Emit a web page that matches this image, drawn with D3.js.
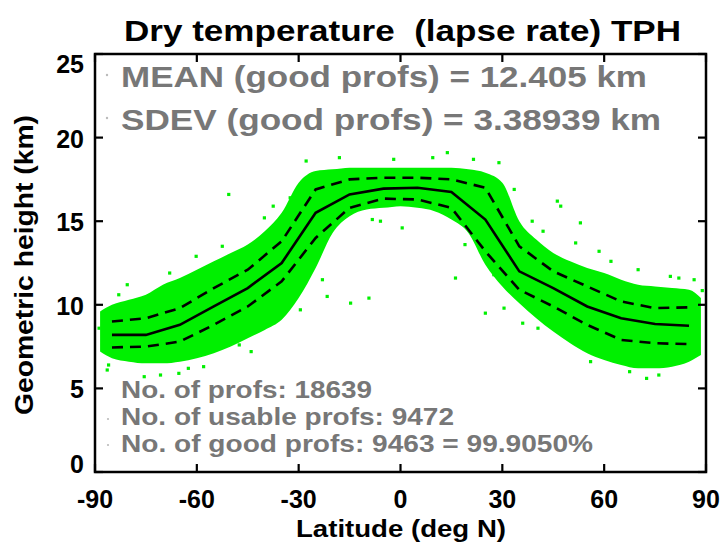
<!DOCTYPE html>
<html>
<head>
<meta charset="utf-8">
<script src="https://cdn.jsdelivr.net/npm/d3@7"></script>
<style>
  body{margin:0;background:#fff;}
  svg{display:block;}
  text{font-family:"Liberation Sans",Arial,Helvetica,sans-serif;font-weight:bold;white-space:pre;}
</style>
</head>
<body>
<svg id="svg" width="724" height="544"></svg>
<script>
// bin centres (deg N) for the mean / sdev curves
const binLat = [-85,-75,-65,-55,-45,-35,-25,-15,-5,5,15,25,35,45,55,65,75,85];
const meanH  = [8.2,8.2,8.8,9.9,11.0,12.5,15.5,16.6,16.95,17.0,16.75,15.1,12.0,11.0,9.9,9.2,8.85,8.75];
const upperH = [9.0,9.2,9.8,11.0,12.1,13.8,16.9,17.5,17.6,17.6,17.5,17.0,13.5,12.0,11.1,10.2,9.8,9.85];
const lowerH = [7.45,7.5,7.8,8.8,9.9,11.4,14.0,15.8,16.35,16.3,15.8,13.2,10.9,9.9,8.8,7.9,7.7,7.65];

// dense part of the profile cloud (outer envelope)
const cloudLat = [-88.5,-85,-80,-75,-70,-65,-60,-55,-50,-45,-40,-35,-30,-25,-20,-15,-10,-5,0,5,10,15,20,25,30,35,40,45,50,55,60,65,70,75,80,85,88.5];
const cloudTop = [9.6,10.0,10.3,10.6,11.2,11.6,12.1,12.6,13.1,13.6,14.4,15.5,17.3,18.0,18.1,18.2,18.2,18.2,18.2,18.2,18.2,18.2,18.1,17.9,17.3,15.0,13.9,13.1,12.6,12.2,11.9,11.5,11.2,11.1,11.0,10.9,10.4];
const cloudBot = [7.2,6.8,6.6,6.5,6.5,6.6,6.8,7.1,7.5,8.0,8.5,9.1,10.4,12.2,14.3,15.3,15.7,15.8,15.9,15.8,15.6,15.1,14.3,12.4,11.1,10.1,9.2,8.4,7.7,7.1,6.7,6.4,6.2,6.2,6.3,6.6,7.0];

// scattered profiles outside the dense band
const outLat = [-50.6,13.8,46.2,47.2,53.0,38.8,-14.7,-9.3,-21.6,-86.4,-70.7,-65.3,16.2,51.6,88.9,87.9,76.1,25.0,0.5,-8.3,-5.9,
                -88.8,-80.5,-60.2,-40.1,-32.5,-27.8,-18.0,-2.0,9.5,21.5,29.0,33.5,42.0,58.5,62.0,70.0,82.0,-75.5,-58.0,-44.0,30.5,36.0,72.5,
                -83.0,-68.0,-52.5,-37.5,-29.5,-23.0,19.0,27.5,40.5,56.0,67.5,79.5,86.5,-86.0,-62.5,-47.5];
const outH   = [16.6,19.1,16.2,15.9,14.9,15.0,10.1,10.4,10.5,6.1,5.8,5.9,11.6,13.7,10.85,7.1,5.8,9.5,14.6,15.1,15.0,
                8.6,11.2,12.9,15.2,16.4,18.6,18.8,18.7,18.8,18.7,18.5,16.9,14.4,13.2,12.6,12.1,11.6,5.7,6.3,7.2,9.8,8.9,5.6,
                10.6,11.9,13.5,15.9,9.7,11.5,13.6,11.8,8.6,6.6,6.0,11.7,11.5,6.4,6.2,7.6];

const yTicks = [0,5,10,15,20,25];
const xTicks = [-90,-60,-30,0,30,60,90];

const title = "Dry temperature  (lapse rate) TPH";
const statLines = ["MEAN (good profs) = 12.405 km", "SDEV (good profs) = 3.38939 km"];
const countLines = ["No. of profs: 18639", "No. of usable profs: 9472", "No. of good profs: 9463 = 99.9050%"];

const svg = d3.select("#svg");
const L = 95, R = 706, T = 54, B = 472;
const x = d3.scaleLinear().domain([-90,90]).range([L,R]);
const y = d3.scaleLinear().domain([0,25]).range([B,T]);
const green = "#00f000";

// cloud
const area = d3.area()
  .x((d,i)=>x(cloudLat[i]))
  .y0((d,i)=>y(cloudBot[i]))
  .y1((d,i)=>y(cloudTop[i]))
  .curve(d3.curveMonotoneX);
svg.append("path").datum(cloudLat).attr("d", area).attr("fill", green);

svg.append("g").selectAll("rect")
  .data(outLat.map((v,i)=>[v,outH[i]]))
  .enter().append("rect")
  .attr("x", d=>x(d[0])-1.6).attr("y", d=>y(d[1])-1.6)
  .attr("width", 3.2).attr("height", 3.2)
  .attr("fill", green);

// mean and +/- sdev
const line = arr => d3.line().x((d,i)=>x(binLat[i])).y((d,i)=>y(arr[i]))(binLat);
svg.append("path").attr("d", line(meanH)).attr("fill","none").attr("stroke","#000").attr("stroke-width",2.6);
[upperH, lowerH].forEach(arr=>{
  svg.append("path").attr("d", line(arr)).attr("fill","none").attr("stroke","#000")
    .attr("stroke-width",2.6).attr("stroke-dasharray","11,7");
});

// frame and ticks
svg.append("rect").attr("x",L).attr("y",T).attr("width",R-L).attr("height",B-T)
  .attr("fill","none").attr("stroke","#000").attr("stroke-width",2.5);
const tk = 8;
xTicks.forEach(v=>{
  svg.append("line").attr("x1",x(v)).attr("x2",x(v)).attr("y1",B).attr("y2",B-tk).attr("stroke","#000").attr("stroke-width",2.2);
  svg.append("line").attr("x1",x(v)).attr("x2",x(v)).attr("y1",T).attr("y2",T+tk).attr("stroke","#000").attr("stroke-width",2.2);
  svg.append("text").attr("x",x(v)).attr("y",B+36).attr("text-anchor","middle")
    .attr("font-size",25).text(v);
});
yTicks.forEach(v=>{
  svg.append("line").attr("x1",L).attr("x2",L+tk).attr("y1",y(v)).attr("y2",y(v)).attr("stroke","#000").attr("stroke-width",2.2);
  svg.append("line").attr("x1",R).attr("x2",R-tk).attr("y1",y(v)).attr("y2",y(v)).attr("stroke","#000").attr("stroke-width",2.2);
  // end labels are pushed inside the axis range
  const dy = v===25 ? 19 : (v===0 ? 1 : 10);
  svg.append("text").attr("x",84).attr("y",y(v)+dy).attr("text-anchor","end")
    .attr("font-size",25).text(v);
});

// titles
svg.append("text").attr("x",124).attr("y",41)
  .attr("font-size",30).attr("textLength",557).attr("lengthAdjust","spacingAndGlyphs").text(title);
svg.append("text").attr("x",296).attr("y",537)
  .attr("font-size",24).attr("textLength",210).attr("lengthAdjust","spacingAndGlyphs").text("Latitude (deg N)");
svg.append("text").attr("transform","translate(33,415) rotate(-90)")
  .attr("font-size",25).attr("textLength",300).attr("lengthAdjust","spacingAndGlyphs").text("Geometric height (km)");

// annotations
const statW = [526, 540];
statLines.forEach((s,i)=>{
  svg.append("circle").attr("cx",107).attr("cy",75+i*43).attr("r",1.2).attr("fill","#bbb");
  svg.append("text").attr("x",121).attr("y",87+i*43).attr("font-size",30).attr("fill","#777")
    .attr("textLength",statW[i]).attr("lengthAdjust","spacingAndGlyphs").text(s);
});
const countW = [251, 333, 472];
countLines.forEach((s,i)=>{
  if(i>0) svg.append("circle").attr("cx",108).attr("cy",393+i*26).attr("r",1.1).attr("fill","#bbb");
  svg.append("text").attr("x",121).attr("y",398+i*27).attr("font-size",23).attr("fill","#777")
    .attr("textLength",countW[i]).attr("lengthAdjust","spacingAndGlyphs").text(s);
});
</script>
</body>
</html>
